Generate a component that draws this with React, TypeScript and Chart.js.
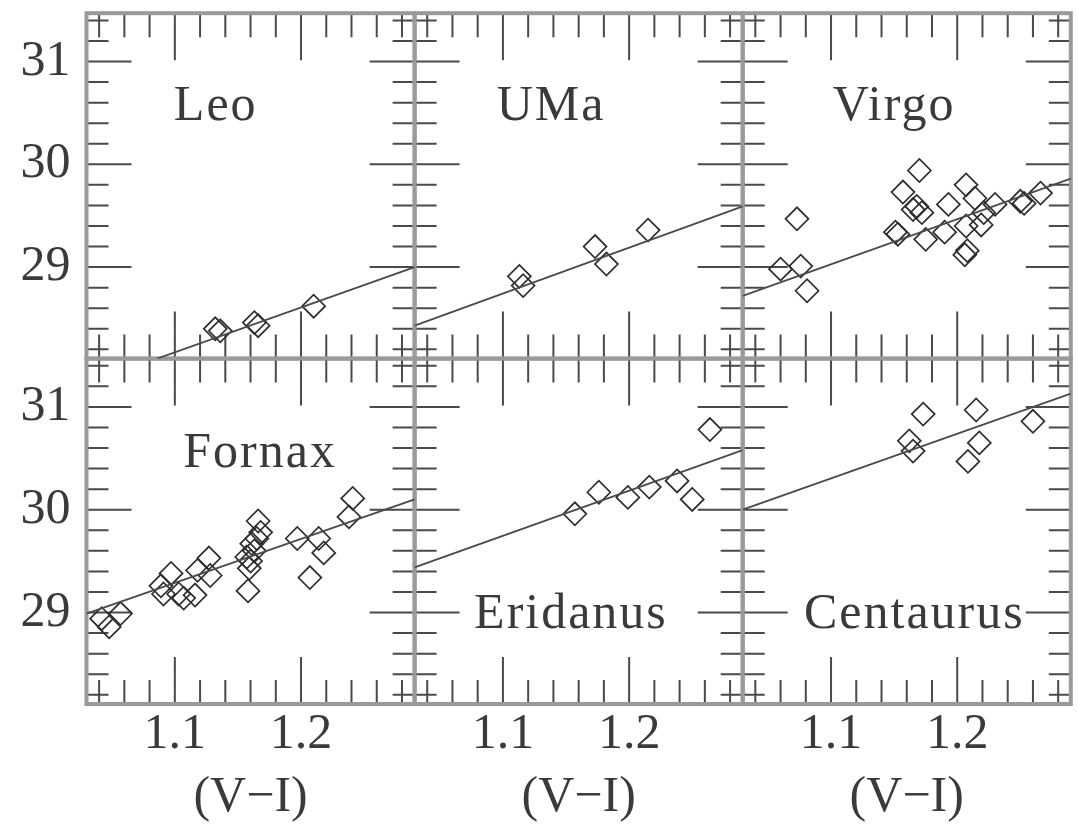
import React, { useEffect, useRef } from 'react';
import { Chart, registerables } from 'chart.js';

Chart.register(...registerables);

// ---------- data ----------
const panelNames = ['Leo', 'UMa', 'Virgo', 'Fornax', 'Eridanus', 'Centaurus'];

const leoX = [1.132, 1.136, 1.163, 1.166, 1.210];
const leoY = [28.40, 28.38, 28.46, 28.43, 28.62];

const umaX = [1.113, 1.116, 1.173, 1.182, 1.215];
const umaY = [28.91, 28.82, 29.20, 29.03, 29.36];

const virgoX = [1.060, 1.073, 1.076, 1.081, 1.151, 1.153, 1.157, 1.170, 1.168, 1.172, 1.165, 1.175,
  1.193, 1.190, 1.207, 1.214, 1.207, 1.208, 1.206, 1.221, 1.219, 1.230, 1.250, 1.253, 1.266];
const virgoY = [28.98, 29.47, 29.01, 28.77, 29.34, 29.32, 29.73, 29.94, 29.59, 29.53, 29.56, 29.27,
  29.61, 29.34, 29.80, 29.67, 29.40, 29.16, 29.12, 29.53, 29.41, 29.61, 29.64, 29.62, 29.72];

const fornaxX = [1.042, 1.048, 1.057, 1.089, 1.097, 1.091, 1.103, 1.107, 1.116, 1.118, 1.127, 1.128,
  1.157, 1.161, 1.166, 1.168, 1.159, 1.158, 1.163, 1.165, 1.197, 1.214, 1.218, 1.207, 1.241, 1.238, 1.160];
const fornaxY = [28.94, 28.86, 28.99, 29.26, 29.38, 29.18, 29.18, 29.14, 29.17, 29.41, 29.53, 29.36,
  29.54, 29.67, 29.89, 29.78, 29.43, 29.21, 29.60, 29.72, 29.72, 29.72, 29.58, 29.34, 30.11, 29.93, 29.50];

const eridanusX = [1.157, 1.176, 1.199, 1.216, 1.238, 1.250, 1.264];
const eridanusY = [29.96, 30.17, 30.12, 30.22, 30.28, 30.10, 30.78];

const centaurusX = [1.162, 1.165, 1.173, 1.2085, 1.215, 1.2175, 1.260];
const centaurusY = [30.67, 30.57, 30.93, 30.47, 30.97, 30.65, 30.86];

// fitted relations (end points as seen on the figure)
const fitLeoX = [1.086, 1.29];
const fitLeoY = [28.11, 29.00];
const fitUmaX = [1.03, 1.29];
const fitUmaY = [28.43, 29.59];
const fitVirgoX = [1.03, 1.29];
const fitVirgoY = [28.72, 29.86];
const fitFornaxX = [1.03, 1.29];
const fitFornaxY = [28.99, 30.10];
const fitEridanusX = [1.03, 1.29];
const fitEridanusY = [29.44, 30.58];
const fitCentaurusX = [1.03, 1.29];
const fitCentaurusY = [30.00, 31.13];

// axes
const xRange = [1.03, 1.29];
const yRange = [28.11, 31.47];
const xTickLabels = [1.1, 1.2];
const yTickLabels = [29, 30, 31];
const xTickMarks = [1.04, 1.06, 1.08, 1.1, 1.12, 1.14, 1.16, 1.18, 1.2, 1.22, 1.24, 1.26, 1.28];
const yTickMarks = [28.2, 28.4, 28.6, 28.8, 29, 29.2, 29.4, 29.6, 29.8, 30, 30.2, 30.4, 30.6, 30.8, 31, 31.2, 31.4];
const xTitle = '(V\u2212I)';

// panel name anchors (data units)
const labelAnchorX = [1.1324, 1.1381, 1.150, 1.1676, 1.1539, 1.166];
const labelAnchorY = [30.43, 30.43, 30.43, 30.42, 28.845, 28.845];

// ---------- assembly ----------
const seriesX = [leoX, umaX, virgoX, fornaxX, eridanusX, centaurusX];
const seriesY = [leoY, umaY, virgoY, fornaxY, eridanusY, centaurusY];
const fitX = [fitLeoX, fitUmaX, fitVirgoX, fitFornaxX, fitEridanusX, fitCentaurusX];
const fitY = [fitLeoY, fitUmaY, fitVirgoY, fitFornaxY, fitEridanusY, fitCentaurusY];
const panelAxes = [
  ['x0', 'yTop'], ['x1', 'yTop'], ['x2', 'yTop'],
  ['x0', 'yBot'], ['x1', 'yBot'], ['x2', 'yBot'],
];

const FONT = '"Liberation Serif", "Times New Roman", serif';
const TEXT = '#3a3a3a';

function zip(xs: number[], ys: number[]) {
  return xs.map((x, i) => ({ x, y: ys[i] }));
}

const panelPlugin = {
  id: 'panelFrames',
  beforeDatasetsDraw(chart: any) {
    const ctx = chart.ctx;
    ctx.save();
    const seen = new Set<string>();
    panelAxes.forEach(([xId, yId]) => {
      const key = xId + yId;
      if (seen.has(key)) return;
      seen.add(key);
      const xs = chart.scales[xId];
      const ys = chart.scales[yId];
      const L = xs.left, R = xs.right, T = ys.top, B = ys.bottom;
      ctx.strokeStyle = '#4a4a4a';
      ctx.lineWidth = 2;
      ctx.beginPath();
      xTickMarks.forEach((v) => {
        const px = xs.getPixelForValue(v);
        const len = xTickLabels.includes(v) ? 47 : 24;
        ctx.moveTo(px, T); ctx.lineTo(px, T + len);
        ctx.moveTo(px, B); ctx.lineTo(px, B - len);
      });
      yTickMarks.forEach((v) => {
        const py = ys.getPixelForValue(v);
        const len = yTickLabels.includes(v) ? 45 : 22;
        ctx.moveTo(L, py); ctx.lineTo(L + len, py);
        ctx.moveTo(R, py); ctx.lineTo(R - len, py);
      });
      ctx.stroke();
      ctx.strokeStyle = '#9a9a9a';
      ctx.lineWidth = 4;
      ctx.strokeRect(L, T, R - L, B - T);
    });
    ctx.restore();
  },
  afterDatasetsDraw(chart: any) {
    const ctx = chart.ctx;
    ctx.save();
    ctx.font = '50px ' + FONT;
    ctx.fillStyle = TEXT;
    ctx.textAlign = 'center';
    ctx.textBaseline = 'alphabetic';
    try { (ctx as any).letterSpacing = '2px'; } catch (e) {}
    panelNames.forEach((name, i) => {
      const [xId, yId] = panelAxes[i];
      const px = chart.scales[xId].getPixelForValue(labelAnchorX[i]);
      const py = chart.scales[yId].getPixelForValue(labelAnchorY[i]);
      ctx.fillText(name, px, py);
    });
    ctx.restore();
  },
};

function noPad(s: any) {
  s.paddingTop = 0;
  s.paddingBottom = 0;
  s.paddingLeft = 0;
  s.paddingRight = 0;
}

function xAxis() {
  return {
    type: 'linear',
    position: 'bottom',
    stack: 'cols',
    min: xRange[0],
    max: xRange[1],
    afterBuildTicks: (s: any) => { s.ticks = xTickLabels.map((v) => ({ value: v })); },
    afterFit: (s: any) => { s.height = 124; noPad(s); },
    grid: { display: false, drawTicks: false },
    border: { display: false },
    ticks: {
      autoSkip: false,
      maxRotation: 0,
      padding: 1,
      color: TEXT,
      font: { family: FONT, size: 50 },
      callback: (v: any) => Number(v).toFixed(1),
    },
    title: {
      display: true,
      text: xTitle,
      color: TEXT,
      font: { family: FONT, size: 50 },
      padding: { top: 0, bottom: 0 },
    },
  };
}

function yAxis(weight: number) {
  return {
    type: 'linear',
    position: 'left',
    stack: 'rows',
    weight,
    min: yRange[0],
    max: yRange[1],
    afterBuildTicks: (s: any) => { s.ticks = yTickLabels.map((v) => ({ value: v })); },
    afterFit: (s: any) => { s.width = 86.5; noPad(s); },
    grid: { display: false, drawTicks: false },
    border: { display: false },
    ticks: {
      autoSkip: false,
      padding: 16,
      color: TEXT,
      font: { family: FONT, size: 50 },
      callback: (v: any) => String(v),
    },
  };
}

export default function App() {
  const ref = useRef<HTMLCanvasElement | null>(null);

  useEffect(() => {
    if (!ref.current) return;
    const datasets: any[] = [];
    panelNames.forEach((name, i) => {
      const [xId, yId] = panelAxes[i];
      datasets.push({
        type: 'line',
        label: name + ' fit',
        data: zip(fitX[i], fitY[i]),
        xAxisID: xId,
        yAxisID: yId,
        borderColor: '#4a4a4a',
        borderWidth: 1.8,
        pointRadius: 0,
        fill: false,
        tension: 0,
      });
      datasets.push({
        type: 'scatter',
        label: name,
        data: zip(seriesX[i], seriesY[i]),
        xAxisID: xId,
        yAxisID: yId,
        pointStyle: 'rectRot',
        pointRadius: 11.5,
        pointBorderWidth: 1.7,
        borderColor: '#2e2e2e',
        pointBorderColor: '#2e2e2e',
        backgroundColor: 'rgba(0,0,0,0)',
        pointBackgroundColor: 'rgba(0,0,0,0)',
      });
    });

    const chart = new Chart(ref.current, {
      type: 'scatter',
      data: { datasets },
      options: {
        animation: false,
        responsive: false,
        devicePixelRatio: 1,
        layout: { padding: { top: 9, left: 0, right: 0, bottom: 0 } },
        plugins: { legend: { display: false }, tooltip: { enabled: false } },
        events: [],
        scales: {
          x0: xAxis(),
          x1: xAxis(),
          x2: xAxis(),
          yTop: yAxis(1),
          yBot: yAxis(0),
        } as any,
      },
      plugins: [panelPlugin as any],
    } as any);
    return () => chart.destroy();
  }, []);

  return (
    <div style={{ position: 'absolute', left: 0, top: 0, width: 1078, height: 828, overflow: 'hidden', background: '#fff' }}>
      <canvas ref={ref} width={1084} height={828} style={{ display: 'block', width: 1084, height: 828 }} />
    </div>
  );
}
